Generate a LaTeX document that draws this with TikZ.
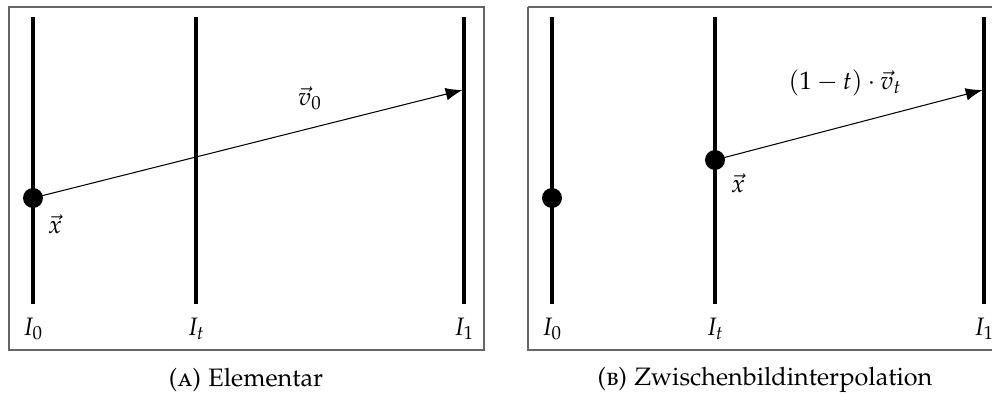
\documentclass[tikz,border=0pt]{standalone}
\usepackage[T1]{fontenc}
\usepackage[sc]{mathpazo}
\usetikzlibrary{arrows.meta}
\tikzset{
  frame/.style={draw=black!60, line width=0.6pt},
  imgline/.style={line width=1.9pt},
  dotpt/.style={circle, fill=black, inner sep=0pt, minimum size=9.5pt},
  vec/.style={line width=0.5pt, -{Latex[length=8pt,width=6pt]}},
  lbl/.style={font=\large, inner sep=0pt},
  captext/.style={font=\large, inner sep=0pt}
}
\begin{document}
\begin{tikzpicture}[x=0.476pt, y=-0.476pt]
\useasboundingbox (0,0) rectangle (992,396);
% panel A
\draw[frame] (9,7) rectangle (484,350);
\coordinate (a0t) at (33,17); \coordinate (a0b) at (33,304);
\coordinate (att) at (196,17); \coordinate (atb) at (196,304);
\coordinate (a1t) at (464,17); \coordinate (a1b) at (464,304);
\draw[imgline] (a0t) -- (a0b);
\draw[imgline] (att) -- (atb);
\draw[imgline] (a1t) -- (a1b);
\node[dotpt] (ax) at (33,198) {};
\coordinate (aend) at (462.5,90);
\draw[vec] (ax.center) -- (aend);
\node[lbl] (alv) at (310,98) {$\vec{v}_0$};
\node[lbl] (alx) at (55,224) {$\vec{x}$};
\node[lbl] (aI0) at (33,329) {$I_0$};
\node[lbl] (aIt) at (196,329) {$I_t$};
\node[lbl] (aI1) at (464,329) {$I_1$};
\node[captext] (capA) at (246,380) {(\textsc{a}) Elementar};
% panel B
\draw[frame] (528,7) -- (992,7);
\draw[frame] (528,7) -- (528,350) -- (992,350);
\coordinate (b0t) at (552,17); \coordinate (b0b) at (552,304);
\coordinate (btt) at (715,17); \coordinate (btb) at (715,304);
\coordinate (b1t) at (984,17); \coordinate (b1b) at (984,304);
\draw[imgline] (b0t) -- (b0b);
\draw[imgline] (btt) -- (btb);
\draw[imgline] (b1t) -- (b1b);
\node[dotpt] (b0x) at (552,198) {};
\node[dotpt] (bx) at (715,160) {};
\coordinate (bend) at (982.5,90);
\draw[vec] (bx.center) -- (bend);
\node[lbl] (blv) at (845,83) {$(1-t)\cdot\vec{v}_t$};
\node[lbl] (blx) at (738,183) {$\vec{x}$};
\node[lbl] (bI0) at (552,329) {$I_0$};
\node[lbl] (bIt) at (715,329) {$I_t$};
\node[lbl] (bI1) at (984,329) {$I_1$};
\node[captext] (capB) at (765,380) {(\textsc{b}) Zwischenbildinterpolation};
\end{tikzpicture}
\end{document}
